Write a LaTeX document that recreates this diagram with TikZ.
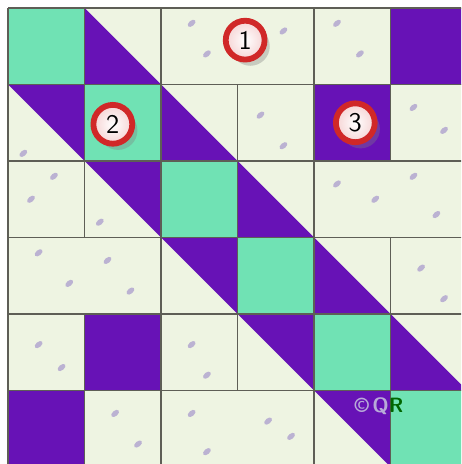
\documentclass[tikz,border=0pt]{standalone}
\usepackage{tikz}
\usetikzlibrary{shadows}
\definecolor{mint}{HTML}{70E2B4}
\definecolor{quiltpurple}{HTML}{6712B6}
\definecolor{cream}{HTML}{EEF4E2}
\definecolor{seam}{HTML}{5E5E56}
\definecolor{ringred}{HTML}{D02828}
\definecolor{spot}{HTML}{9A86C8}

\begin{document}
\begin{tikzpicture}[x=1.3cm,y=-1.3cm,
  seamline/.style={draw=seam,line width=0.8pt},
  badge/.style={circle,draw=ringred,line width=2.8pt,inner color=white,outer color=ringred!20,
    minimum size=0.66cm,inner sep=0pt,font=\sffamily\fontsize{13}{13}\selectfont,
    drop shadow={opacity=0.35,shadow xshift=2.5pt,shadow yshift=-3pt}}]
\useasboundingbox (-0.105,-0.105) rectangle (5.922,5.961);
\clip (-0.105,-0.105) rectangle (5.922,5.961);
\fill[white] (-0.105,-0.105) rectangle (5.922,5.961);
% background fabric
\fill[cream] (0,0) rectangle (6,6);
\foreach \x/\y in {0.3/0.5,0.7/0.3,2.4/0.2,2.6/0.6,3.6/0.3,4.3/0.2,4.6/0.6,5.3/1.3,5.7/1.6,3.3/1.4,3.6/1.8,
  0.3/2.5,0.6/2.2,4.3/2.3,4.8/2.5,5.3/2.2,5.6/2.7,0.4/3.2,0.8/3.6,1.3/3.3,1.6/3.7,5.4/3.4,5.7/3.8,
  0.4/4.4,0.7/4.7,2.4/4.4,2.6/4.8,1.4/5.3,1.7/5.7,2.4/5.3,2.6/5.8,3.4/5.4,3.7/5.6,0.2/1.9,1.2/2.8}
  \fill[spot,opacity=0.6,rotate around={40:(\x,\y)}] (\x,\y) ellipse (0.06 and 0.035);
% green diagonal
\foreach \i in {0,...,5}
  \fill[mint] (\i,\i) rectangle ++(1,1);
% half-square triangles
\foreach \i in {0,...,4} {
  \fill[quiltpurple] (\i+1,\i) -- (\i+1,\i+1) -- (\i+2,\i+1) -- cycle;
  \fill[quiltpurple] (\i,\i+1) -- (\i+1,\i+1) -- (\i+1,\i+2) -- cycle;
}
% plain purple squares
\foreach \c/\r in {5/0,4/1,1/4,0/5}
  \fill[quiltpurple] (\c,\r) rectangle ++(1,1);
% seams
\foreach \y in {0,...,5}
  \draw[seamline] (0,\y) -- (6,\y);
\draw[seamline] (0,0) -- (0,6);
\foreach \x/\r in {1/0,2/0,4/0,5/0,1/1,2/1,3/1,4/1,5/1,1/2,2/2,3/2,4/2,2/3,3/3,4/3,5/3,
  1/4,2/4,3/4,4/4,5/4,1/5,2/5,4/5,5/5}
  \draw[seamline] (\x,\r) -- (\x,\r+1);
% labels
\node[badge] (one) at (3.1,0.42) {1};
\node[badge] (two) at (1.37,1.52) {2};
\node[badge] (three) at (4.54,1.5) {3};
\node[text=spot!70!white,font=\sffamily\bfseries,inner sep=0pt] (mark) at (4.85,5.2) {\textcopyright\,Q\textcolor{green!40!black}{R}};
\end{tikzpicture}
\end{document}
